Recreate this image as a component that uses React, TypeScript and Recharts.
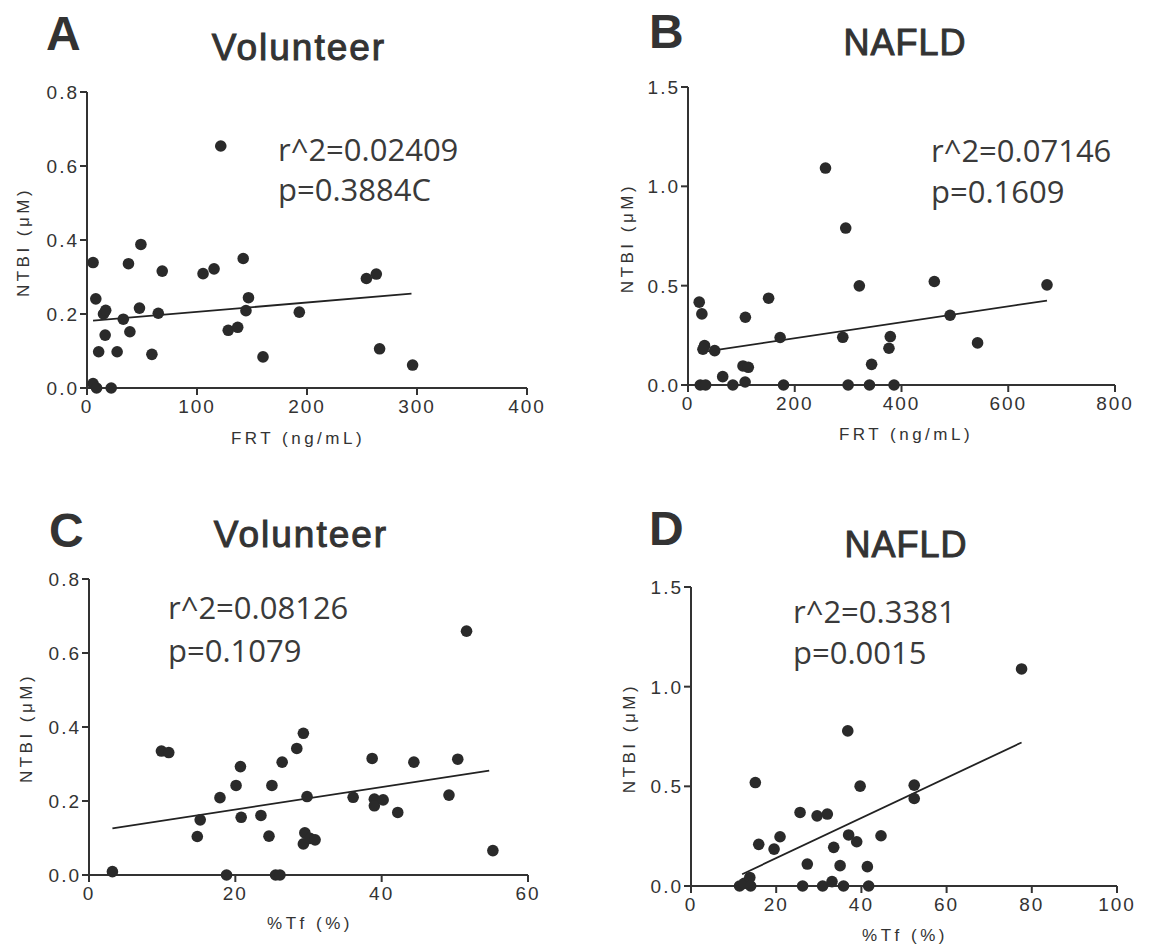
import React from "react";
import { ReferenceLine, Scatter, ScatterChart, XAxis, YAxis } from "recharts";

// NTBI (uM) against FRT (ng/mL) and %Tf (%), volunteers and NAFLD patients
const volunteerFrt: [number, number][] = [
  [121.6, 0.654], [5.5, 0.339], [8, 0.241], [15, 0.2], [17, 0.21], [16.5, 0.143], [10.6, 0.098],
  [5.5, 0.012], [8.7, 0.0], [22, 0.0], [27.4, 0.098], [33, 0.186], [37.7, 0.336], [39, 0.152],
  [49, 0.388], [47.7, 0.216], [59, 0.091], [64.8, 0.202], [68.4, 0.316], [105.5, 0.309],
  [115.5, 0.322], [128.4, 0.156], [137, 0.164], [142, 0.35], [146.8, 0.244], [144.5, 0.209],
  [160, 0.084], [193, 0.205], [254, 0.296], [263, 0.308], [266, 0.106], [296, 0.062],
];
const nafldFrt: [number, number][] = [
  [21, 0.417], [26, 0.358], [31, 0.198], [28, 0.18], [50, 0.173], [23, 0], [33, 0], [65, 0.042],
  [84, 0], [103, 0.096], [113, 0.089], [107, 0.015], [107.5, 0.341], [151, 0.437], [172.6, 0.239],
  [179, 0], [257.6, 1.092], [290, 0.24], [295.5, 0.79], [300, 0], [321, 0.499], [340, 0],
  [344, 0.104], [376.5, 0.185], [379, 0.244], [386, 0], [461.5, 0.521], [491, 0.351],
  [542.5, 0.212], [672.6, 0.504],
];
const volunteerTf: [number, number][] = [
  [3.2, 0.009], [9.9, 0.335], [10.9, 0.331], [14.8, 0.104], [15.2, 0.149], [17.9, 0.209],
  [18.8, 0], [20.1, 0.242], [20.7, 0.293], [20.8, 0.156], [23.5, 0.161], [24.6, 0.105],
  [25, 0.242], [25.5, 0], [26.1, 0], [26.4, 0.305], [28.4, 0.342], [29.3, 0.383], [29.8, 0.212],
  [29.5, 0.114], [29.3, 0.084], [30.2, 0.099], [30.9, 0.095], [36.1, 0.21], [38.7, 0.315],
  [39, 0.205], [39, 0.187], [40.2, 0.203], [42.2, 0.169], [44.4, 0.305], [49.2, 0.216],
  [50.4, 0.313], [51.6, 0.659], [55.2, 0.066],
];
const nafldTf: [number, number][] = [
  [11.4, 0], [12.5, 0.013], [13.8, 0.043], [14, 0], [15.1, 0.519], [15.9, 0.209], [19.5, 0.185],
  [20.9, 0.247], [25.6, 0.369], [26.2, 0], [27.3, 0.11], [29.6, 0.352], [30.9, 0], [32, 0.361],
  [33.1, 0.022], [33.5, 0.194], [35, 0.102], [35.8, 0], [36.8, 0.778], [37, 0.256], [38.9, 0.222],
  [39.7, 0.501], [41.4, 0.097], [41.7, 0], [44.6, 0.252], [52.4, 0.506], [52.4, 0.439],
  [77.6, 1.089],
];

// regression line end points
const fitVolunteerFrt: [number, number][] = [[5.5, 0.182], [295, 0.255]];
const fitNafldFrt: [number, number][] = [[20, 0.163], [672.6, 0.425]];
const fitVolunteerTf: [number, number][] = [[3.2, 0.126], [54.7, 0.282]];
const fitNafldTf: [number, number][] = [[12, 0.059], [77.6, 0.72]];

const frtVolunteerTicks = [0, 100, 200, 300, 400];
const frtNafldTicks = [0, 200, 400, 600, 800];
const tfVolunteerTicks = [0, 20, 40, 60];
const tfNafldTicks = [0, 20, 40, 60, 80, 100];
const ntbiVolunteerTicks = [0, 0.2, 0.4, 0.6, 0.8];
const ntbiNafldTicks = [0, 0.5, 1.0, 1.5];

const INK = "#333";
const SANS = "Liberation Sans, Arial, sans-serif";

const XTick = (props: any) => (
  <text x={props.x} y={props.y} textAnchor="middle" dy="0.8em" fontSize={19} fontFamily={SANS} fill={INK} letterSpacing={2}>
    {props.payload.value}
  </text>
);

const YTick = (props: any) => (
  <text x={props.x + 2} y={props.y} textAnchor="end" dy="0.36em" fontSize={19} fontFamily={SANS} fill={INK} letterSpacing={2}>
    {Number(props.payload.value).toFixed(1)}
  </text>
);

type PanelProps = {
  left: number;
  top: number;
  width: number;
  height: number;
  margin: { top: number; right: number };
  yWidth: number;
  xHeight: number;
  points: [number, number][];
  fit: [number, number][];
  xTicks: number[];
  yTicks: number[];
};

const Dot = (props: any) => <circle cx={props.cx} cy={props.cy} r={5.8} fill="#2a2a2a" />;

function Panel({ left, top, width, height, margin, yWidth, xHeight, points, fit, xTicks, yTicks }: PanelProps) {
  const data = points.map(([x, y]) => ({ x, y }));
  const xMax = xTicks[xTicks.length - 1];
  const yMax = yTicks[yTicks.length - 1];
  return (
    <div style={{ position: "absolute", left, top }}>
      <ScatterChart width={width} height={height} margin={{ top: margin.top, right: margin.right, left: 0, bottom: 0 }}>
        <XAxis
          type="number"
          dataKey="x"
          domain={[0, xMax]}
          ticks={xTicks}
          height={xHeight}
          tickSize={7}
          tickMargin={3}
          stroke={INK}
          strokeWidth={2}
          tick={XTick}
          interval={0}
        />
        <YAxis
          type="number"
          dataKey="y"
          domain={[0, yMax]}
          ticks={yTicks}
          width={yWidth}
          tickSize={7}
          tickMargin={3}
          stroke={INK}
          strokeWidth={2}
          tick={YTick}
          interval={0}
        />
        <ReferenceLine
          segment={[{ x: fit[0][0], y: fit[0][1] }, { x: fit[1][0], y: fit[1][1] }]}
          stroke="#222"
          strokeWidth={1.8}
          ifOverflow="visible"
        />
        <Scatter data={data} shape={Dot} isAnimationActive={false} />
      </ScatterChart>
    </div>
  );
}

const noteFont = "Open Sans, Noto Sans, sans-serif";

function Overlay() {
  const letter = { fontFamily: SANS, fontWeight: 700, fill: INK, fontSize: 48 } as const;
  const title = { fontFamily: SANS, fontWeight: 400, fill: INK, stroke: INK, strokeWidth: 1, textAnchor: "middle" } as const;
  const note = { fontFamily: noteFont, fontSize: 31, fill: "#3a3a3a" } as const;
  const axis = { fontFamily: SANS, fontSize: 17, fill: INK, letterSpacing: 3.5 } as const;
  const yLabel = (cx: number, cy: number) => (
    <text x={cx} y={cy} transform={`rotate(-90 ${cx} ${cy})`} textAnchor="middle" dominantBaseline="central" {...axis}>
      NTBI (μM)
    </text>
  );
  return (
    <svg width={1159} height={944} style={{ position: "absolute", left: 0, top: 0, pointerEvents: "none" }}>
      <text x={46} y={50} {...letter}>A</text>
      <text x={299} y={60} fontSize={37} letterSpacing={2} {...title}>Volunteer</text>
      <text x={649} y={48} {...letter}>B</text>
      <text x={905} y={55} fontSize={36} letterSpacing={1} {...title}>NAFLD</text>
      <text x={49} y={547} {...letter}>C</text>
      <text x={301} y={547} fontSize={37} letterSpacing={2} {...title}>Volunteer</text>
      <text x={649} y={545} {...letter}>D</text>
      <text x={906} y={557} fontSize={36} letterSpacing={1} {...title}>NAFLD</text>

      <text x={278} y={161} {...note}>r^2=0.02409</text>
      <text x={278} y={201} {...note}>p=0.3884C</text>
      <text x={931} y={162} {...note}>r^2=0.07146</text>
      <text x={931} y={203} {...note}>p=0.1609</text>
      <text x={168} y={619} {...note}>r^2=0.08126</text>
      <text x={168} y={662} {...note}>p=0.1079</text>
      <text x={793} y={623} {...note}>r^2=0.3381</text>
      <text x={793} y={664} {...note}>p=0.0015</text>

      {yLabel(23, 242)}
      {yLabel(627, 238)}
      {yLabel(26, 728)}
      {yLabel(629, 738)}
      <text x={298} y={444} textAnchor="middle" {...axis}>FRT (ng/mL)</text>
      <text x={906} y={440} textAnchor="middle" {...axis}>FRT (ng/mL)</text>
      <text x={310} y={929} textAnchor="middle" {...axis}>%Tf (%)</text>
      <text x={905} y={941} textAnchor="middle" {...axis}>%Tf (%)</text>
    </svg>
  );
}

export default function App() {
  return (
    <div style={{ position: "absolute", left: 0, top: 0, width: 1159, height: 944, background: "#fff", overflow: "hidden" }}>
      <Panel left={0} top={0} width={560} height={470} margin={{ top: 92, right: 33 }} yWidth={87} xHeight={82}
        points={volunteerFrt} fit={fitVolunteerFrt} xTicks={frtVolunteerTicks} yTicks={ntbiVolunteerTicks} />
      <Panel left={580} top={0} width={579} height={470} margin={{ top: 87, right: 44 }} yWidth={108} xHeight={85}
        points={nafldFrt} fit={fitNafldFrt} xTicks={frtNafldTicks} yTicks={ntbiNafldTicks} />
      <Panel left={0} top={480} width={560} height={464} margin={{ top: 99, right: 32 }} yWidth={89} xHeight={69}
        points={volunteerTf} fit={fitVolunteerTf} xTicks={tfVolunteerTicks} yTicks={ntbiVolunteerTicks} />
      <Panel left={580} top={480} width={579} height={464} margin={{ top: 107, right: 42 }} yWidth={111} xHeight={58}
        points={nafldTf} fit={fitNafldTf} xTicks={tfNafldTicks} yTicks={ntbiNafldTicks} />
      <Overlay />
    </div>
  );
}
